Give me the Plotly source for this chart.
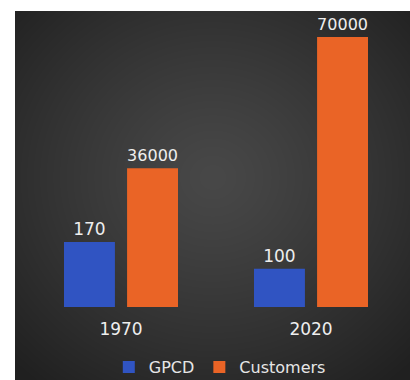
import base64
import struct
import zlib

import numpy as np
import plotly.graph_objects as go

# Chart data
years = ["1970", "2020"]
gpcd = [170, 100]
customers = [36000, 70000]
series_names = ["GPCD", "Customers"]


def radial_png(w, h, inner, outer):
    """Build a PNG (as data URI) with a soft radial gradient."""
    yy, xx = np.mgrid[0:h, 0:w].astype(float)
    cx, cy = w * 0.5, h * 0.45
    r = np.sqrt(((xx - cx) / (w * 0.72)) ** 2 + ((yy - cy) / (h * 0.72)) ** 2)
    t = np.clip(r, 0, 1) ** 1.2
    img = np.zeros((h, w, 3))
    for c in range(3):
        img[..., c] = inner[c] + (outer[c] - inner[c]) * t
    img = np.clip(img, 0, 255).astype(np.uint8)
    raw = b"".join(b"\x00" + img[row].tobytes() for row in range(h))

    def chunk(tag, data):
        out = struct.pack(">I", len(data)) + tag + data
        return out + struct.pack(">I", zlib.crc32(tag + data) & 0xFFFFFFFF)

    png = b"\x89PNG\r\n\x1a\n"
    png += chunk(b"IHDR", struct.pack(">IIBBBBB", w, h, 8, 2, 0, 0, 0))
    png += chunk(b"IDAT", zlib.compress(raw, 9))
    png += chunk(b"IEND", b"")
    return "data:image/png;base64," + base64.b64encode(png).decode()


W, H = 410, 380
L, R, T, B = 26, 4, 20, 73
pw, ph = W - L - R, H - T - B

font_family = "DejaVu Sans"
label_color = "#eeeeee"

fig = go.Figure()
fig.add_trace(go.Bar(
    x=years, y=gpcd, name=series_names[0],
    marker=dict(color="#3054c2", line=dict(width=0)),
    width=0.268, offset=-0.30,
    text=[str(v) for v in gpcd], texttemplate="%{text}", textposition="outside",
    textfont=dict(family=font_family, size=17, color=label_color),
    cliponaxis=False, yaxis="y",
))
fig.add_trace(go.Bar(
    x=years, y=customers, name=series_names[1],
    marker=dict(color="#ea6426", line=dict(width=0)),
    width=0.268, offset=0.032,
    text=[str(v) for v in customers], texttemplate="%{text}", textposition="outside",
    textfont=dict(family=font_family, size=17, color=label_color),
    cliponaxis=False, yaxis="y2",
))

bg = radial_png(395, 369, (72, 72, 72), (32, 32, 32))

fig.update_layout(
    width=W, height=H,
    margin=dict(l=L, r=R, t=T, b=B, autoexpand=False),
    paper_bgcolor="white",
    plot_bgcolor="rgba(0,0,0,0)",
    barmode="overlay",
    showlegend=True,
    legend=dict(
        orientation="h", x=0.51, xanchor="center",
        y=-(350 - (H - B)) / ph, yanchor="top",
        font=dict(family=font_family, size=16, color="#e6e6e6"),
        bgcolor="rgba(0,0,0,0)", itemwidth=30,
    ),
    xaxis=dict(
        type="category", range=[-0.5, 1.5],
        showgrid=False, zeroline=False, showline=False, ticks="",
        ticklabelstandoff=10,
        tickfont=dict(family=font_family, size=17, color=label_color),
    ),
    yaxis=dict(range=[0, ph * 2.62], visible=False, showgrid=False),
    yaxis2=dict(range=[0, ph * 259.3], visible=False, showgrid=False,
                overlaying="y", side="right"),
    images=[dict(
        source=bg, xref="paper", yref="paper",
        x=(15 - L) / pw, y=((H - B) - 11) / ph,
        sizex=395 / pw, sizey=369 / ph,
        xanchor="left", yanchor="top", sizing="stretch", layer="below",
    )],
)

fig.write_html("out.html")
